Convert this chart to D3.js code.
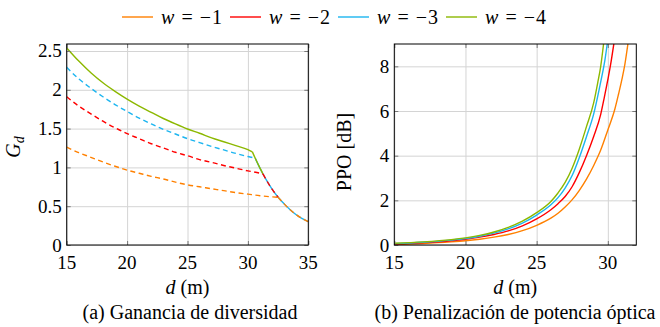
<!DOCTYPE html>
<html>
<head>
<meta charset="utf-8">
<script src="https://cdn.jsdelivr.net/npm/d3@7"></script>
<style>
  body { margin: 0; background: #fff; }
</style>
</head>
<body>
<svg id="chart" width="660" height="327" font-family="Liberation Serif"></svg>
<script>
// legend
const weights = [-1, -2, -3, -4];
const colors = ["#ff8000", "#ff0000", "#1cb5f0", "#8cb800"];

// (a) Ganancia de diversidad, before the knee
const gdX = [15, 16, 17, 18, 19, 20, 21, 22, 23, 24, 25, 26, 27, 28, 29, 30];
const gdW1 = [1.26, 1.19, 1.13, 1.07, 1.015, 0.965, 0.925, 0.885, 0.85, 0.81, 0.775, 0.75, 0.725, 0.7, 0.675, 0.655];
const gdW2 = [1.91, 1.79, 1.69, 1.595, 1.51, 1.435, 1.37, 1.305, 1.25, 1.195, 1.15, 1.1, 1.065, 1.025, 0.99, 0.955];
const gdW3 = [2.29, 2.14, 2.02, 1.91, 1.81, 1.72, 1.635, 1.56, 1.49, 1.43, 1.37, 1.32, 1.27, 1.225, 1.18, 1.14];
const gdW4 = [2.54, 2.37, 2.22, 2.09, 1.98, 1.88, 1.79, 1.71, 1.63, 1.56, 1.495, 1.44, 1.38, 1.33, 1.28, 1.23];
// points past 30 up to each knee
const gdKneeX = [[31, 32, 32.5], [31, 31.25], [30.6], [30.37]];
const gdKneeY = [[0.635, 0.62, 0.615], [0.925, 0.915], [1.12], [1.2]];
// common decay after the knee
const tailX = [30.37, 30.6, 31, 31.25, 31.5, 32, 32.5, 33, 33.5, 34, 34.5, 35];
const tailY = [1.2, 1.12, 0.99, 0.915, 0.845, 0.72, 0.615, 0.53, 0.455, 0.39, 0.34, 0.3];
const tailFrom = [32.5, 31.25, 30.6, 30.37];
const tailTo = [35, 32.5, 35, 31.25];

// (b) Penalizacion de potencia optica
const ppoX1 = [15, 17, 19, 20, 21, 22, 23, 24, 25, 26, 26.5, 27, 27.5, 28, 28.5, 29, 29.5, 30, 30.5, 30.75, 31, 31.2, 31.41];
const ppoW1 = [0.03, 0.07, 0.14, 0.19, 0.26, 0.35, 0.47, 0.64, 0.88, 1.2, 1.42, 1.7, 2.03, 2.45, 2.95, 3.55, 4.25, 5.15, 6.1, 6.75, 7.45, 8.1, 9.0];
const ppoX2 = [15, 17, 19, 20, 21, 22, 23, 24, 25, 26, 26.5, 27, 27.5, 28, 28.5, 29, 29.5, 29.75, 30, 30.2, 30.42];
const ppoW2 = [0.04, 0.1, 0.19, 0.26, 0.35, 0.47, 0.63, 0.86, 1.17, 1.58, 1.85, 2.17, 2.62, 3.25, 4.0, 4.85, 5.85, 6.6, 7.4, 8.1, 9.0];
const ppoX3 = [15, 17, 19, 20, 21, 22, 23, 24, 25, 26, 26.5, 27, 27.5, 28, 28.5, 29, 29.5, 29.8, 29.96];
const ppoW3 = [0.06, 0.12, 0.22, 0.29, 0.39, 0.53, 0.72, 0.98, 1.34, 1.8, 2.12, 2.55, 3.12, 3.92, 4.85, 5.85, 7.3, 8.3, 9.0];
const ppoX4 = [15, 17, 19, 20, 21, 22, 23, 24, 25, 26, 26.5, 27, 27.5, 28, 28.5, 29, 29.3, 29.5, 29.7];
const ppoW4 = [0.08, 0.14, 0.24, 0.32, 0.43, 0.58, 0.79, 1.07, 1.45, 1.95, 2.33, 2.8, 3.45, 4.3, 5.3, 6.35, 7.3, 8.0, 9.0];

// ticks
const xTicksA = [15, 20, 25, 30, 35];
const yTicksA = [0, 0.5, 1, 1.5, 2, 2.5];
const xTicksB = [15, 20, 25, 30];
const yTicksB = [0, 2, 4, 6, 8];

const svg = d3.select("#chart");
const zip = (xs, ys) => xs.map((x, i) => [x, ys[i]]);

const plotTop = 44, plotBottom = 245;
const font = "Liberation Serif";
const fontSize = 20;
const tickFontSize = 19;

function drawPanel(cfg) {
  const x = d3.scaleLinear().domain(cfg.xDomain).range([cfg.left, cfg.right]);
  const y = d3.scaleLinear().domain(cfg.yDomain).range([plotBottom, plotTop]);
  const g = svg.append("g");
  const h = plotBottom - plotTop, w = cfg.right - cfg.left;

  // grid
  g.append("g")
    .attr("transform", `translate(0,${plotBottom})`)
    .call(d3.axisBottom(x).tickValues(cfg.xTicks).tickSize(-h).tickFormat(""))
    .call((s) => s.select(".domain").remove())
    .selectAll("line").attr("stroke", "#d4d4d4").attr("stroke-width", 1);
  g.append("g")
    .attr("transform", `translate(${cfg.left},0)`)
    .call(d3.axisLeft(y).tickValues(cfg.yTicks).tickSize(-w).tickFormat(""))
    .call((s) => s.select(".domain").remove())
    .selectAll("line").attr("stroke", "#d4d4d4").attr("stroke-width", 1);

  // curves
  const clipId = "clip" + cfg.id;
  g.append("clipPath").attr("id", clipId)
    .append("rect").attr("x", cfg.left).attr("y", plotTop).attr("width", w).attr("height", h);
  const line = d3.line().x((d) => x(d[0])).y((d) => y(d[1])).curve(d3.curveMonotoneX);
  const curves = g.append("g").attr("clip-path", `url(#${clipId})`);
  cfg.paths.forEach((p) => {
    curves.append("path")
      .attr("d", line(p.points))
      .attr("fill", "none")
      .attr("stroke", p.color)
      .attr("stroke-width", 1.4)
      .attr("stroke-dasharray", p.dashed ? "5,3.5" : null);
  });

  // inward ticks on all sides
  const tickStyle = (s) => {
    s.select(".domain").remove();
    s.selectAll("line").attr("stroke", "#777").attr("stroke-width", 1);
  };
  g.append("g").attr("transform", `translate(0,${plotBottom})`)
    .call(d3.axisBottom(x).tickValues(cfg.xTicks).tickSize(-4).tickFormat("")).call(tickStyle);
  g.append("g").attr("transform", `translate(0,${plotTop})`)
    .call(d3.axisTop(x).tickValues(cfg.xTicks).tickSize(-4).tickFormat("")).call(tickStyle);
  g.append("g").attr("transform", `translate(${cfg.left},0)`)
    .call(d3.axisLeft(y).tickValues(cfg.yTicks).tickSize(-4).tickFormat("")).call(tickStyle);
  g.append("g").attr("transform", `translate(${cfg.right},0)`)
    .call(d3.axisRight(y).tickValues(cfg.yTicks).tickSize(-4).tickFormat("")).call(tickStyle);

  // frame
  g.append("rect")
    .attr("x", cfg.left).attr("y", plotTop).attr("width", w).attr("height", h)
    .attr("fill", "none").attr("stroke", "#000").attr("stroke-width", 1);

  // tick labels
  g.append("g").selectAll("text").data(cfg.xTicks).join("text")
    .attr("x", (d) => x(d)).attr("y", 268.5)
    .attr("text-anchor", "middle").attr("font-family", font).attr("font-size", tickFontSize)
    .text((d) => d);
  g.append("g").selectAll("text").data(cfg.yTicks).join("text")
    .attr("x", cfg.left - 5).attr("y", (d) => y(d) + 6.5)
    .attr("text-anchor", "end").attr("font-family", font).attr("font-size", tickFontSize)
    .text((d) => d);

  // x label
  const xl = g.append("text")
    .attr("x", (cfg.left + cfg.right) / 2).attr("y", 294)
    .attr("text-anchor", "middle").attr("font-family", font).attr("font-size", fontSize);
  xl.append("tspan").attr("font-style", "italic").text("d");
  xl.append("tspan").text(" (m)");

  // y label
  const yl = g.append("text")
    .attr("transform", `translate(${cfg.yLabelX},${cfg.yLabelY}) rotate(-90)`)
    .attr("text-anchor", "middle").attr("font-family", font).attr("font-size", fontSize);
  cfg.yLabel(yl);

  // caption
  g.append("text")
    .attr("x", cfg.captionX).attr("y", 319)
    .attr("text-anchor", "middle").attr("font-family", font).attr("font-size", fontSize)
    .text(cfg.caption);
}

// panel (a) paths
const gdPre = [gdW1, gdW2, gdW3, gdW4];
const tailPts = zip(tailX, tailY);
const gdPath = (i, dashedTail) => [
  { points: zip(gdX.concat(gdKneeX[i]), gdPre[i].concat(gdKneeY[i])), color: colors[i], dashed: i < 3 },
  { points: tailPts.filter((p) => p[0] >= tailFrom[i] && p[0] <= tailTo[i]), color: colors[i], dashed: dashedTail },
];
const pathsA = [].concat(gdPath(2, false), gdPath(3, false), gdPath(1, true), gdPath(0, true));

drawPanel({
  id: "a",
  left: 66.7, right: 308.3,
  xDomain: [15, 35], yDomain: [0, 2.59],
  xTicks: xTicksA, yTicks: yTicksA,
  paths: pathsA,
  yLabelX: 20, yLabelY: 147,
  yLabel: (t) => {
    t.append("tspan").attr("font-style", "italic").text("G");
    t.append("tspan").attr("font-style", "italic").attr("font-size", 14).attr("dy", 4).text("d");
  },
  caption: "(a) Ganancia de diversidad", captionX: 190,
});

const ppo = [zip(ppoX1, ppoW1), zip(ppoX2, ppoW2), zip(ppoX3, ppoW3), zip(ppoX4, ppoW4)];
drawPanel({
  id: "b",
  left: 394.3, right: 636.3,
  xDomain: [15, 32], yDomain: [0, 9],
  xTicks: xTicksB, yTicks: yTicksB,
  paths: ppo.map((pts, i) => ({ points: pts, color: colors[i], dashed: false })),
  yLabelX: 351, yLabelY: 152,
  yLabel: (t) => t.text("PPO [dB]"),
  caption: "(b) Penalización de potencia óptica", captionX: 515,
});

// legend
const legend = svg.append("g");
let lx = 122;
weights.forEach((wv, i) => {
  legend.append("line")
    .attr("x1", lx).attr("x2", lx + 31).attr("y1", 17).attr("y2", 17)
    .attr("stroke", colors[i]).attr("stroke-width", 1.4);
  const t = legend.append("text").attr("x", lx + 39).attr("y", 23.5)
    .attr("font-family", font).attr("font-size", fontSize)
    .attr("textLength", 61).attr("lengthAdjust", "spacing");
  t.append("tspan").attr("font-style", "italic").text("w");
  t.append("tspan").text(" = −" + Math.abs(wv));
  lx += 39 + 61 + 8;
});
</script>
</body>
</html>
